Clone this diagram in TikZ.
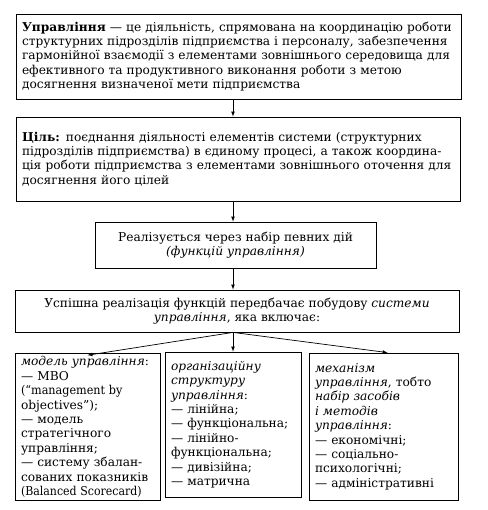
\documentclass[tikz,border=0pt]{standalone}
\usepackage{fontspec}
\usepackage{graphicx}
\setmainfont{DejaVu Serif}
\tikzset{
    box/.style={draw, line width=0.8pt, inner xsep=6pt, inner ysep=3pt, align=left,
        font=\fontsize{12.2}{14.4}\selectfont},
    arr/.style={-latex, line width=0.7pt}
}
\begin{document}
\begin{tikzpicture}[x=1pt, y=-1pt]
\useasboundingbox (0,0) rectangle (487,510);
\coordinate (ax) at (233,0);
\node[box, minimum width=445pt, minimum height=85pt, text width=433pt] (def) at (238.5,56.5)
    {\textbf{Управління} — це діяльність, спрямована на координацію роботи\\
     структурних підрозділів підприємства і персоналу, забезпечення\\
     гармонійної взаємодії з елементами зовнішнього середовища для\\
     ефективного та продуктивного виконання роботи з метою\\
     досягнення визначеної мети підприємства};
\node[box, minimum width=444pt, minimum height=84pt, text width=432pt] (goal) at (238,159)
    {\textbf{Ціль:} поєднання діяльності елементів системи (структурних\\
     підрозділів підприємства) в єдиному процесі, а також координа-\\
     ція роботи підприємства з елементами зовнішнього оточення для\\
     досягнення його цілей\\[6pt]};
\node[box, minimum width=281pt, minimum height=46pt, align=center] (func) at (235.5,245)
    {Реалізується через набір певних дій\\ \textit{(функцій управління)}};
\node[box, minimum width=444pt, minimum height=42pt, align=center] (sys) at (237,311)
    {Успішна реалізація функцій передбачає побудову \textit{системи}\\
     \textit{управління}, яка включає:};
\node[box, minimum width=145pt, minimum height=146pt, text width=133pt] (model) at (87.5,427)
    {\textit{модель управління}:\\ — MBO\\ \scalebox{0.92}[1]{(“management by}\\ objectives”);\\ — модель\\
     стратегічного\\ управління;\\ — систему збалан-\\ сованих показників\\
     \scalebox{0.9}[1]{(Balanced Scorecard)}};
\node[box, minimum width=136pt, minimum height=145pt, text width=124pt] (struct) at (233,424.5)
    {\textit{організаційну}\\ \textit{структуру}\\ \textit{управління}:\\ — лінійна;\\
     — функціональна;\\ — лінійно-\\ функціональна;\\ — дивізійна;\\ — матрична\\[4pt]};
\node[box, minimum width=149pt, minimum height=147pt, text width=137pt] (mech) at (383.5,426.5)
    {\textit{механізм}\\ \textit{управління}, тобто\\ \textit{набір засобів}\\ \textit{і методів}\\
     \textit{управління}:\\ — економічні;\\ — соціально-\\ психологічні;\\ — адміністративні\\[4pt]};
\draw[arr] (def.south -| ax) -- (goal.north -| ax);
\draw[arr] (goal.south -| ax) -- (func.north -| ax);
\draw[arr] (func.south -| ax) -- (sys.north -| ax);
\draw[arr] (sys.south -| ax) -- ([yshift=-2pt]model.north);
\draw[arr] (sys.south -| ax) -- (struct.north);
\draw[arr] (sys.south -| ax) -- ([xshift=4pt]mech.north);
\end{tikzpicture}
\end{document}
